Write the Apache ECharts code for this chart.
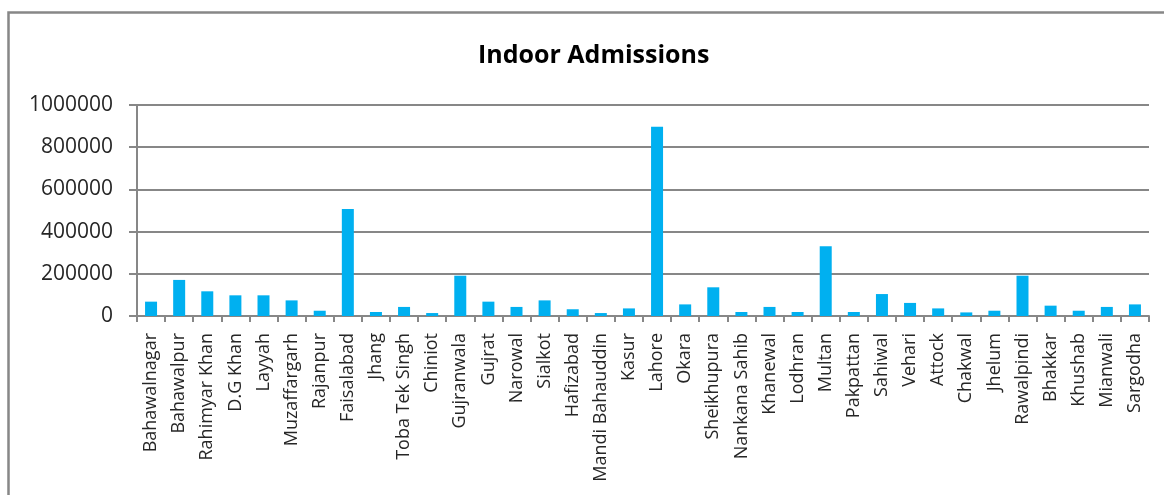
<!DOCTYPE html>
<html>
<head>
<meta charset="utf-8">
<style>
  html, body { margin: 0; padding: 0; background: #fff; }
  #chart { width: 1164px; height: 495px; }
</style>
<script src="https://cdn.jsdelivr.net/npm/echarts@6/dist/echarts.min.js"></script>
</head>
<body>
<div id="chart"></div>
<script>
// Districts of Punjab, in reporting order
const districts = [
  'Bahawalnagar', 'Bahawalpur', 'Rahimyar Khan', 'D.G Khan', 'Layyah',
  'Muzaffargarh', 'Rajanpur', 'Faisalabad', 'Jhang', 'Toba Tek Singh',
  'Chiniot', 'Gujranwala', 'Gujrat', 'Narowal', 'Sialkot', 'Hafizabad',
  'Mandi Bahauddin', 'Kasur', 'Lahore', 'Okara', 'Sheikhupura',
  'Nankana Sahib', 'Khanewal', 'Lodhran', 'Multan', 'Pakpattan', 'Sahiwal',
  'Vehari', 'Attock', 'Chakwal', 'Jhelum', 'Rawalpindi', 'Bhakkar',
  'Khushab', 'Mianwali', 'Sargodha'
];

// Indoor admissions per district
const admissions = [
  68000, 171000, 117000, 98000, 98000,
  74000, 25000, 507000, 19000, 43000,
  14000, 191000, 68000, 43000, 74000, 32000,
  14000, 36000, 897000, 55000, 136000,
  19000, 43000, 19000, 330000, 19000, 104000,
  62000, 36000, 17000, 25000, 191000, 49000,
  25000, 43000, 55000
];

// Value axis ticks
const yMin = 0;
const yMax = 1000000;
const yStep = 200000;

const FONT = '"Open Sans", "DejaVu Sans", sans-serif';
const GREY = '#878787';

const chart = echarts.init(document.getElementById('chart'), null, { renderer: 'canvas' });

chart.setOption({
  animation: false,
  backgroundColor: '#ffffff',
  title: {
    text: 'Indoor Admissions',
    left: 473,
    top: 38,
    textStyle: {
      fontFamily: FONT,
      fontWeight: 'bold',
      fontSize: 25,
      color: '#000000'
    }
  },
  graphic: [{
    type: 'rect',
    shape: { x: 8.5, y: 12.5, width: 1200, height: 600 },
    style: { fill: 'none', stroke: GREY, lineWidth: 2.5 },
    silent: true,
    z: 100
  }],
  grid: {
    left: 137,
    right: 15,
    top: 105,
    bottom: 179,
    containLabel: false
  },
  xAxis: {
    type: 'category',
    data: districts,
    axisLine: { show: true, lineStyle: { color: GREY, width: 2 } },
    axisTick: { show: true, length: 6, alignWithLabel: false, lineStyle: { color: GREY, width: 2 } },
    axisLabel: {
      interval: 0,
      rotate: 90,
      margin: 17,
      fontFamily: FONT,
      fontSize: 18,
      color: '#262626'
    },
    splitLine: { show: false }
  },
  yAxis: {
    type: 'value',
    min: yMin,
    max: yMax,
    interval: yStep,
    axisLine: { show: true, lineStyle: { color: GREY, width: 2 } },
    axisTick: { show: true, length: 8, lineStyle: { color: GREY, width: 2 } },
    axisLabel: {
      margin: 24,
      fontFamily: FONT,
      fontSize: 21,
      color: '#262626',
      formatter: (v) => String(v)
    },
    splitLine: { show: true, lineStyle: { color: GREY, width: 2 } }
  },
  series: [{
    type: 'bar',
    name: 'Indoor Admissions',
    data: admissions,
    barWidth: 12,
    itemStyle: { color: '#00B0F0' }
  }]
});
</script>
</body>
</html>
